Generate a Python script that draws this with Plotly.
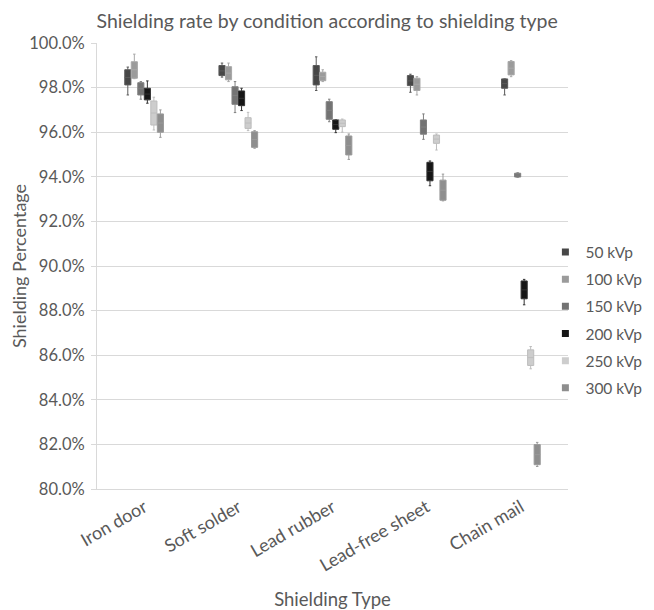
import plotly.graph_objects as go

categories = ["Iron door", "Soft solder", "Lead rubber", "Lead-free sheet", "Chain mail"]
series = ["50 kVp", "100 kVp", "150 kVp", "200 kVp", "250 kVp", "300 kVp"]

# per series: values for each category (percent)
upper_50 = [98.92, 99.10, 99.38, 98.60, 98.39]
q3_50 = [98.80, 98.99, 98.99, 98.54, 98.39]
med_50 = [98.45, 98.75, 98.55, 98.30, 98.18]
q1_50 = [98.12, 98.54, 98.12, 98.09, 97.97]
lower_50 = [97.67, 98.47, 97.87, 97.79, 97.67]

upper_100 = [99.50, 99.10, 98.80, 98.49, 99.21]
q3_100 = [99.16, 98.94, 98.69, 98.42, 99.17]
med_100 = [98.80, 98.65, 98.50, 98.15, 98.87]
q1_100 = [98.42, 98.35, 98.31, 97.87, 98.57]
lower_100 = [98.40, 98.27, 98.27, 97.67, 98.49]

upper_150 = [98.27, 98.27, 97.48, 96.82, 94.18]
q3_150 = [98.22, 98.04, 97.37, 96.55, 94.16]
med_150 = [97.95, 97.65, 96.98, 96.23, 94.08]
q1_150 = [97.67, 97.25, 96.58, 95.91, 93.99]
lower_150 = [97.48, 96.88, 96.47, 95.68, 93.98]

upper_200 = [98.30, 97.97, 96.55, 94.71, 89.40]
q3_200 = [97.97, 97.85, 96.55, 94.65, 89.33]
med_200 = [97.71, 97.52, 96.34, 94.24, 88.93]
q1_200 = [97.45, 97.19, 96.13, 93.82, 88.53]
lower_200 = [97.30, 96.97, 95.98, 93.60, 88.26]

upper_250 = [97.57, 96.89, 96.59, 95.92, 86.39]
q3_250 = [97.40, 96.65, 96.55, 95.87, 86.24]
med_250 = [96.86, 96.41, 96.40, 95.69, 85.89]
q1_250 = [96.32, 96.17, 96.25, 95.50, 85.54]
lower_250 = [96.10, 96.07, 96.00, 95.20, 85.39]

upper_300 = [97.00, 96.07, 95.92, 94.12, 82.09]
q3_300 = [96.82, 96.02, 95.83, 93.85, 81.99]
med_300 = [96.41, 95.67, 95.40, 93.40, 81.54]
q1_300 = [96.00, 95.32, 94.98, 92.95, 81.09]
lower_300 = [95.77, 95.28, 94.78, 92.92, 81.01]

stats = [
    (upper_50, q3_50, med_50, q1_50, lower_50),
    (upper_100, q3_100, med_100, q1_100, lower_100),
    (upper_150, q3_150, med_150, q1_150, lower_150),
    (upper_200, q3_200, med_200, q1_200, lower_200),
    (upper_250, q3_250, med_250, q1_250, lower_250),
    (upper_300, q3_300, med_300, q1_300, lower_300),
]

fills = ["#474747", "#9b9b9b", "#737373", "#161616", "#cdcdcd", "#8e8e8e"]
lines = ["#5a5a5a", "#a8a8a8", "#808080", "#333333", "#bdbdbd", "#9a9a9a"]

FONT = "Lato, Open Sans, sans-serif"
TXT = "#595959"

fig = go.Figure()
for name, (up, q3, med, q1, lo), fc, lc in zip(series, stats, fills, lines):
    fig.add_trace(go.Box(
        name=name,
        legendgroup=name,
        showlegend=False,
        x=categories,
        q1=q1, median=med, q3=q3,
        lowerfence=lo, upperfence=up,
        fillcolor=fc,
        line=dict(color=lc, width=1),
        whiskerwidth=0.4,
        boxpoints=False,
        hoverinfo="y",
    ))

# legend entries with small square markers
for name, fc in zip(series, fills):
    fig.add_trace(go.Scatter(
        name=name, legendgroup=name,
        x=[None], y=[None], mode="markers",
        marker=dict(symbol="square", size=7, color=fc),
        showlegend=True,
    ))

# page body has an 8px margin, so the figure is drawn 8px in from the top-left
fig.update_layout(
    width=646, height=602,
    boxmode="group",
    boxgap=0.585,
    boxgroupgap=0.06,
    paper_bgcolor="white",
    plot_bgcolor="white",
    margin=dict(l=89, r=86, t=35, b=121, autoexpand=False),
    title=dict(text="Shielding rate by condition according to shielding type",
               x=0.494, xanchor="center", y=0.978, yanchor="middle",
               font=dict(family=FONT, size=19.5, color=TXT)),
    font=dict(family=FONT, color=TXT),
    showlegend=True,
    legend=dict(x=0.952, xanchor="left", y=0.379, yanchor="middle",
                font=dict(family=FONT, size=15.5, color=TXT),
                tracegroupgap=4, itemwidth=30, itemsizing="trace",
                bgcolor="rgba(0,0,0,0)"),
    xaxis=dict(
        title=dict(text="Shielding Type", font=dict(family=FONT, size=18.5, color=TXT), standoff=18),
        tickangle=-30,
        tickfont=dict(family=FONT, size=18, color=TXT),
        showline=True, linecolor="#d9d9d9", linewidth=1,
        showgrid=False, ticks="", automargin=False,
    ),
    yaxis=dict(
        title=dict(text="Shielding Percentage", font=dict(family=FONT, size=18, color=TXT), standoff=14),
        range=[80, 100],
        dtick=2, tick0=80,
        tickformat=".1f", ticksuffix="%",
        tickfont=dict(family=FONT, size=16.5, color=TXT),
        ticklabelstandoff=3,
        showgrid=True, gridcolor="#d9d9d9", gridwidth=1,
        showline=True, linecolor="#d9d9d9", linewidth=1,
        ticks="outside", ticklen=5, tickcolor="#d9d9d9",
        zeroline=False, automargin=False,
    ),
)

fig.write_html("out.html")
